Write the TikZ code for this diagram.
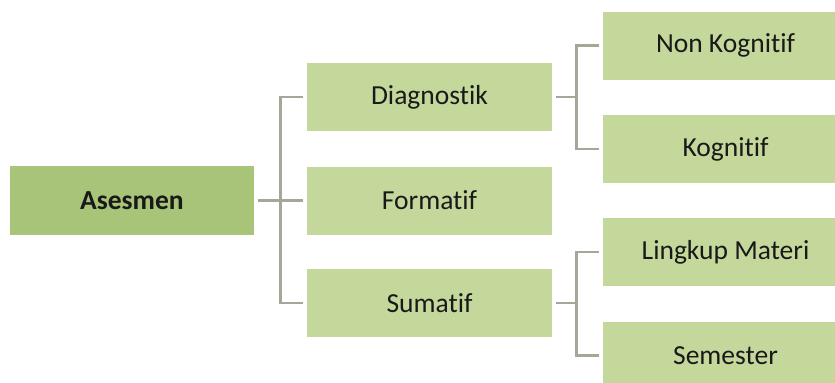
\documentclass[tikz,border=0pt]{standalone}
\usepackage{fontspec}
\setmainfont[Ligatures = NoCommon]{Carlito}
\definecolor{rootgreen}{RGB}{168,196,120}
\definecolor{boxgreen}{RGB}{196,216,155}
\definecolor{linegray}{RGB}{165,168,150}
\begin{document}
\begin{tikzpicture}[x = .3mm, y = -.3mm]
		\tikzstyle{every node} = [font = \fontsize{23.5}{28}\selectfont, text = black!90]
		\tikzstyle{root} = [fill = rootgreen, minimum width = 73.2mm, minimum height = 20.7mm, font = \fontsize{23.5}{28}\selectfont\bfseries]
		\tikzstyle{box} = [fill = boxgreen, minimum width = 73.5mm, minimum height = 20.4mm]
		\tikzstyle{conn} = [draw = linegray, line width = .85mm]
		\fill[white] (0,0) rectangle (835,382);
		\clip (0,0) rectangle (835,382);

		\node[root] (asesmen) at (132,200.5) {Asesmen};

		\node[box] (diag) at (429.5,97) {Diagnostik};
		\node[box] (formatif) at (429.5,200.5) {Formatif};
		\node[box] (sumatif) at (429.5,303) {Sumatif};

		\node[box] (nonkog) at (725.5,45.5) {Non Kognitif};
		\node[box] (kog) at (725.5,149) {Kognitif};
		\node[box] (lingkup) at (725.5,252) {Lingkup Materi};
		\node[box] (semester) at (725.5,355.5) {Semester};

		\draw[conn, shorten < = 1.2mm, shorten > = 1.2mm] (asesmen.east) -- (formatif.west); %root to middle
		\draw[conn, shorten < = 1.2mm, shorten > = 1.2mm] (diag.west) -- ++(-26,0) |- (sumatif.west); %middle trunk

		\draw[conn, shorten < = 1mm] (diag.east) -- ++(25,0); %diag to its trunk
		\draw[conn, shorten < = 1mm, shorten > = 1mm] (nonkog.west) -- ++(-26,0) |- (kog.west);
		\draw[conn, shorten < = 1mm] (sumatif.east) -- ++(25,0); %sumatif to its trunk
		\draw[conn, shorten < = 1mm, shorten > = 1mm] (lingkup.west) -- ++(-26,0) |- (semester.west);
	\end{tikzpicture}
\end{document}
